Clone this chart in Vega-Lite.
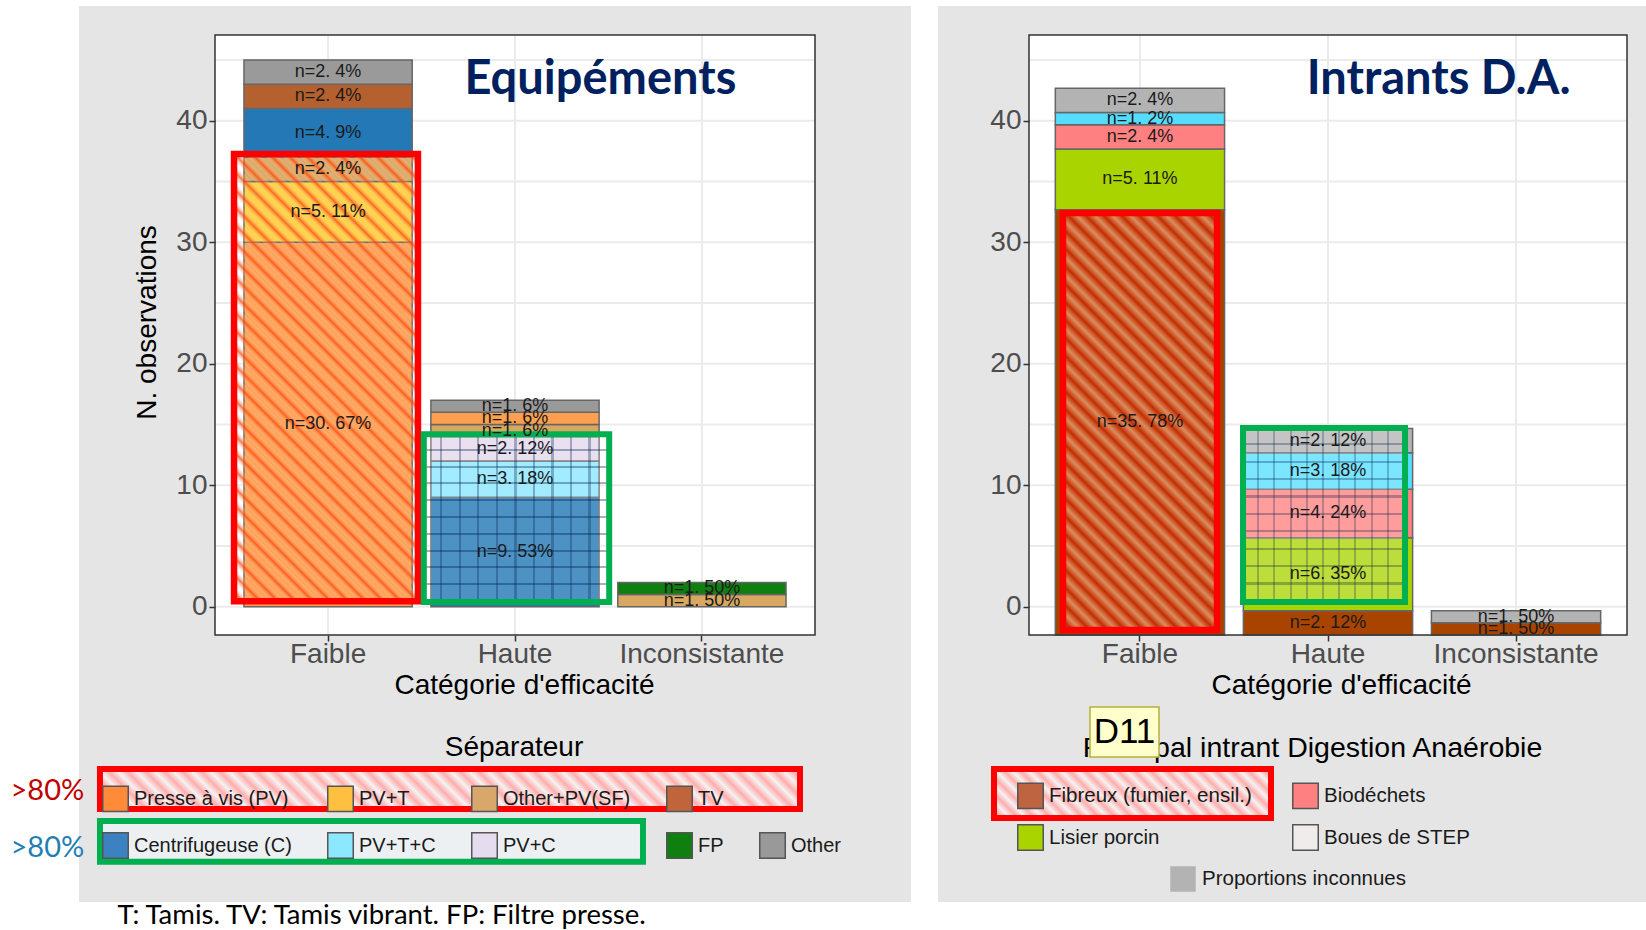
{
 "$schema": "https://vega.github.io/schema/vega-lite/v6.json",
 "background": "white",
 "padding": {"left": 10, "top": 5, "right": 0, "bottom": 0},
 "autosize": {"type": "pad"},
 "spacing": 26,
 "resolve": {"scale": {"color": "independent", "fill": "independent", "stroke": "independent", "shape": "independent", "x": "independent", "y": "independent"}, "legend": {"color": "independent", "fill": "independent", "stroke": "independent", "shape": "independent"}},
 "datasets": {
  "one": [{"a": 1}],
  "cats": [{"cat": "Faible"}, {"cat": "Haute"}, {"cat": "Inconsistante"}],
  "gridL": [{"v": 0}, {"v": 5}, {"v": 10}, {"v": 15}, {"v": 20}, {"v": 25}, {"v": 30}, {"v": 35}, {"v": 40}, {"v": 45}],
  "gridR": [{"v": 2.33}, {"v": 7.33}, {"v": 12.33}, {"v": 17.33}, {"v": 22.33}, {"v": 27.33}, {"v": 32.33}, {"v": 37.33}, {"v": 42.33}, {"v": 47.33}],
  "sepL": [
   {"cat": "Faible", "sep": "Presse à vis (PV)", "n": 30, "k": 1, "lab": "n=30. 67%"},
   {"cat": "Faible", "sep": "PV+T", "n": 5, "k": 2, "lab": "n=5. 11%"},
   {"cat": "Faible", "sep": "Other+PV(SF)", "n": 2, "k": 3, "lab": "n=2. 4%"},
   {"cat": "Faible", "sep": "Centrifugeuse (C)", "n": 4, "k": 4, "lab": "n=4. 9%"},
   {"cat": "Faible", "sep": "TV", "n": 2, "k": 5, "lab": "n=2. 4%"},
   {"cat": "Faible", "sep": "Other", "n": 2, "k": 6, "lab": "n=2. 4%"},
   {"cat": "Haute", "sep": "Centrifugeuse (C)", "n": 9, "k": 1, "lab": "n=9. 53%"},
   {"cat": "Haute", "sep": "PV+T+C", "n": 3, "k": 2, "lab": "n=3. 18%"},
   {"cat": "Haute", "sep": "PV+C", "n": 2, "k": 3, "lab": "n=2. 12%"},
   {"cat": "Haute", "sep": "Other+PV(SF)", "n": 1, "k": 4, "lab": "n=1. 6%"},
   {"cat": "Haute", "sep": "Presse à vis (PV)", "n": 1, "k": 5, "lab": "n=1. 6%"},
   {"cat": "Haute", "sep": "Other", "n": 1, "k": 6, "lab": "n=1. 6%"},
   {"cat": "Inconsistante", "sep": "Other+PV(SF)", "n": 1, "k": 1, "lab": "n=1. 50%"},
   {"cat": "Inconsistante", "sep": "FP", "n": 1, "k": 2, "lab": "n=1. 50%"}
  ],
  "inR": [
   {"cat": "Faible", "intr": "Fibreux (fumier, ensil.)", "n": 35, "k": 1, "lab": "n=35. 78%"},
   {"cat": "Faible", "intr": "Lisier porcin", "n": 5, "k": 2, "lab": "n=5. 11%"},
   {"cat": "Faible", "intr": "Biodéchets", "n": 2, "k": 3, "lab": "n=2. 4%"},
   {"cat": "Faible", "intr": "Boues de STEP", "n": 1, "k": 4, "lab": "n=1. 2%"},
   {"cat": "Faible", "intr": "Proportions inconnues", "n": 2, "k": 5, "lab": "n=2. 4%"},
   {"cat": "Haute", "intr": "Fibreux (fumier, ensil.)", "n": 2, "k": 1, "lab": "n=2. 12%"},
   {"cat": "Haute", "intr": "Lisier porcin", "n": 6, "k": 2, "lab": "n=6. 35%"},
   {"cat": "Haute", "intr": "Biodéchets", "n": 4, "k": 3, "lab": "n=4. 24%"},
   {"cat": "Haute", "intr": "Boues de STEP", "n": 3, "k": 4, "lab": "n=3. 18%"},
   {"cat": "Haute", "intr": "Proportions inconnues", "n": 2, "k": 5, "lab": "n=2. 12%"},
   {"cat": "Inconsistante", "intr": "Fibreux (fumier, ensil.)", "n": 1, "k": 1, "lab": "n=1. 50%"},
   {"cat": "Inconsistante", "intr": "Proportions inconnues", "n": 1, "k": 2, "lab": "n=1. 50%"}
  ]
 },
 "hconcat": [
  {
   "width": 600, "height": 600,
   "resolve": {"scale": {"x": "independent"}},
   "layer": [
    {"layer": [
     {"data": {"name": "one"}, "mark": {"type": "rect", "fill": "#E5E5E5"},
      "encoding": {"x": {"datum": -0.2267, "type": "quantitative", "scale": {"domain": [0, 1], "nice": false, "zero": false}, "axis": null}, "x2": {"datum": 1.16}, "y": {"datum": 49.44, "type": "quantitative"}, "y2": {"datum": -24.3}}},
     {"data": {"name": "one"}, "mark": {"type": "rect", "fill": "#FFFFFF"},
      "encoding": {"x": {"datum": 0, "type": "quantitative"}, "x2": {"datum": 1}, "y": {"datum": 47.05, "type": "quantitative"}, "y2": {"datum": -2.33}}},
     {"data": {"name": "gridL"}, "mark": {"type": "rule", "stroke": "#EBEBEB", "strokeWidth": 2},
      "encoding": {"x": {"datum": 0, "type": "quantitative"}, "x2": {"datum": 1}, "y": {"field": "v", "type": "quantitative"}}}
    ]},
    {"layer": [
     {"data": {"name": "cats"}, "mark": {"type": "rule", "stroke": "#EBEBEB", "strokeWidth": 2},
      "encoding": {"x": {"field": "cat", "type": "nominal"}, "y": {"datum": -2.33, "type": "quantitative"}, "y2": {"datum": 47.05}}},
     {"data": {"name": "sepL"}, "mark": {"type": "bar", "stroke": "#666666", "strokeWidth": 1.5},
      "encoding": {
       "x": {"field": "cat", "type": "nominal", "scale": {"domain": ["Faible", "Haute", "Inconsistante"], "paddingInner": 0.1, "paddingOuter": 0.155},
             "axis": {"orient": "bottom", "title": "Catégorie d'efficacité", "labelAngle": 0, "labelAlign": "center", "labelBaseline": "top", "labelPadding": -1, "titlePadding": 3, "titleX": 309, "zindex": 1}},
       "y": {"field": "n", "type": "quantitative", "stack": "zero", "scale": {"domain": [-2.33, 47.05], "nice": false, "zero": false},
             "axis": {"orient": "left", "title": "N. observations", "values": [0, 10, 20, 30, 40], "labelPadding": 2, "titlePadding": 14, "titleY": 287, "zindex": 1}},
       "color": {"field": "sep", "type": "nominal",
                 "scale": {"domain": ["Presse à vis (PV)", "PV+T", "Other+PV(SF)", "TV", "Centrifugeuse (C)", "PV+T+C", "PV+C", "FP", "Other"],
                           "range": ["#FFA050", "#FFD23C", "#D8A860", "#B4602F", "#2378B5", "#8CE6FF", "#E4D8EC", "#0F800F", "#9A9A9A"]},
                 "legend": null},
       "order": {"field": "k", "type": "quantitative"}
      }},
     {"data": {"name": "sepL"}, "mark": {"type": "point", "filled": true, "shape": "square", "strokeWidth": 2.5, "opacity": 0},
      "encoding": {"x": {"field": "cat", "type": "nominal"}, "y": {"datum": 0, "type": "quantitative"},
       "fill": {"field": "sep", "type": "nominal",
                "scale": {"domain": ["Presse à vis (PV)", "PV+T", "Other+PV(SF)", "TV", " ", "Centrifugeuse (C)", "PV+T+C", "PV+C", "FP", "Other"],
                          "range": ["#FF8A3A", "#FFC040", "#D9A66B", "#C0643C", "rgba(0,0,0,0)", "#3C82C0", "#8CE8FF", "#E6DCEF", "#0F800F", "#999999"]},
                "legend": {"orient": "none", "legendX": -113, "legendY": 750, "direction": "horizontal", "columns": 5, "title": null, "symbolOpacity": 1,
                           "labelFontSize": 20, "rowPadding": 14, "columnPadding": 32}},
       "stroke": {"field": "sep", "type": "nominal",
                "scale": {"domain": ["Presse à vis (PV)", "PV+T", "Other+PV(SF)", "TV", " ", "Centrifugeuse (C)", "PV+T+C", "PV+C", "FP", "Other"],
                          "range": ["#555555", "#555555", "#555555", "#555555", "rgba(0,0,0,0)", "#555555", "#555555", "#555555", "#555555", "#555555"]},
                "legend": {"orient": "none", "legendX": -113, "legendY": 750, "direction": "horizontal", "columns": 5, "title": null, "symbolOpacity": 1,
                           "labelFontSize": 20, "rowPadding": 14, "columnPadding": 32}}}}
    ]},
    {"layer": [
     {"data": {"name": "one"}, "mark": {"type": "rect", "fillOpacity": 0, "stroke": "#333333", "strokeWidth": 1.5},
      "encoding": {"x": {"datum": 0, "type": "quantitative", "scale": {"domain": [0, 1], "nice": false, "zero": false}, "axis": null}, "x2": {"datum": 1}, "y": {"datum": 47.05, "type": "quantitative"}, "y2": {"datum": -2.33}}},
     {"data": {"name": "one"}, "mark": {"type": "rect", "stroke": "#FF0000", "strokeWidth": 6.5,
       "fill": {"gradient": "linear", "x1": 0, "y1": 1, "x2": 0.497, "y2": -0.208, "stops": [
        {"offset": 0, "color": "rgba(255,255,255,0)"}, {"offset": 0.01389, "color": "rgba(255,70,0,0.75)"},
        {"offset": 0.02778, "color": "rgba(255,255,255,0)"}, {"offset": 0.04167, "color": "rgba(255,70,0,0.75)"},
        {"offset": 0.05556, "color": "rgba(255,255,255,0)"}, {"offset": 0.06944, "color": "rgba(255,70,0,0.75)"},
        {"offset": 0.08333, "color": "rgba(255,255,255,0)"}, {"offset": 0.09722, "color": "rgba(255,70,0,0.75)"},
        {"offset": 0.11111, "color": "rgba(255,255,255,0)"}, {"offset": 0.125, "color": "rgba(255,70,0,0.75)"},
        {"offset": 0.13889, "color": "rgba(255,255,255,0)"}, {"offset": 0.15278, "color": "rgba(255,70,0,0.75)"},
        {"offset": 0.16667, "color": "rgba(255,255,255,0)"}, {"offset": 0.18056, "color": "rgba(255,70,0,0.75)"},
        {"offset": 0.19444, "color": "rgba(255,255,255,0)"}, {"offset": 0.20833, "color": "rgba(255,70,0,0.75)"},
        {"offset": 0.22222, "color": "rgba(255,255,255,0)"}, {"offset": 0.23611, "color": "rgba(255,70,0,0.75)"},
        {"offset": 0.25, "color": "rgba(255,255,255,0)"}, {"offset": 0.26389, "color": "rgba(255,70,0,0.75)"},
        {"offset": 0.27778, "color": "rgba(255,255,255,0)"}, {"offset": 0.29167, "color": "rgba(255,70,0,0.75)"},
        {"offset": 0.30556, "color": "rgba(255,255,255,0)"}, {"offset": 0.31944, "color": "rgba(255,70,0,0.75)"},
        {"offset": 0.33333, "color": "rgba(255,255,255,0)"}, {"offset": 0.34722, "color": "rgba(255,70,0,0.75)"},
        {"offset": 0.36111, "color": "rgba(255,255,255,0)"}, {"offset": 0.375, "color": "rgba(255,70,0,0.75)"},
        {"offset": 0.38889, "color": "rgba(255,255,255,0)"}, {"offset": 0.40278, "color": "rgba(255,70,0,0.75)"},
        {"offset": 0.41667, "color": "rgba(255,255,255,0)"}, {"offset": 0.43056, "color": "rgba(255,70,0,0.75)"},
        {"offset": 0.44444, "color": "rgba(255,255,255,0)"}, {"offset": 0.45833, "color": "rgba(255,70,0,0.75)"},
        {"offset": 0.47222, "color": "rgba(255,255,255,0)"}, {"offset": 0.48611, "color": "rgba(255,70,0,0.75)"},
        {"offset": 0.5, "color": "rgba(255,255,255,0)"}, {"offset": 0.51389, "color": "rgba(255,70,0,0.75)"},
        {"offset": 0.52778, "color": "rgba(255,255,255,0)"}, {"offset": 0.54167, "color": "rgba(255,70,0,0.75)"},
        {"offset": 0.55556, "color": "rgba(255,255,255,0)"}, {"offset": 0.56944, "color": "rgba(255,70,0,0.75)"},
        {"offset": 0.58333, "color": "rgba(255,255,255,0)"}, {"offset": 0.59722, "color": "rgba(255,70,0,0.75)"},
        {"offset": 0.61111, "color": "rgba(255,255,255,0)"}, {"offset": 0.625, "color": "rgba(255,70,0,0.75)"},
        {"offset": 0.63889, "color": "rgba(255,255,255,0)"}, {"offset": 0.65278, "color": "rgba(255,70,0,0.75)"},
        {"offset": 0.66667, "color": "rgba(255,255,255,0)"}, {"offset": 0.68056, "color": "rgba(255,70,0,0.75)"},
        {"offset": 0.69444, "color": "rgba(255,255,255,0)"}, {"offset": 0.70833, "color": "rgba(255,70,0,0.75)"},
        {"offset": 0.72222, "color": "rgba(255,255,255,0)"}, {"offset": 0.73611, "color": "rgba(255,70,0,0.75)"},
        {"offset": 0.75, "color": "rgba(255,255,255,0)"}, {"offset": 0.76389, "color": "rgba(255,70,0,0.75)"},
        {"offset": 0.77778, "color": "rgba(255,255,255,0)"}, {"offset": 0.79167, "color": "rgba(255,70,0,0.75)"},
        {"offset": 0.80556, "color": "rgba(255,255,255,0)"}, {"offset": 0.81944, "color": "rgba(255,70,0,0.75)"},
        {"offset": 0.83333, "color": "rgba(255,255,255,0)"}, {"offset": 0.84722, "color": "rgba(255,70,0,0.75)"},
        {"offset": 0.86111, "color": "rgba(255,255,255,0)"}, {"offset": 0.875, "color": "rgba(255,70,0,0.75)"},
        {"offset": 0.88889, "color": "rgba(255,255,255,0)"}, {"offset": 0.90278, "color": "rgba(255,70,0,0.75)"},
        {"offset": 0.91667, "color": "rgba(255,255,255,0)"}, {"offset": 0.93056, "color": "rgba(255,70,0,0.75)"},
        {"offset": 0.94444, "color": "rgba(255,255,255,0)"}, {"offset": 0.95833, "color": "rgba(255,70,0,0.75)"},
        {"offset": 0.97222, "color": "rgba(255,255,255,0)"}, {"offset": 0.98611, "color": "rgba(255,70,0,0.75)"},
        {"offset": 1, "color": "rgba(255,255,255,0)"}]}},
      "encoding": {"x": {"datum": 0.0317, "type": "quantitative"}, "x2": {"datum": 0.3383}, "y": {"datum": 37.26, "type": "quantitative"}, "y2": {"datum": 0.45}}},
     {"data": {"name": "one"}, "mark": {"type": "rect",
       "fill": {"gradient": "linear", "x1": 0, "y1": 0, "x2": 1, "y2": 0, "stops": [
        {"offset": 0, "color": "rgba(255,255,255,0.1)"}, {"offset": 0.088, "color": "rgba(255,255,255,0.1)"}, {"offset": 0.088, "color": "rgba(30,60,100,0.4)"}, {"offset": 0.1, "color": "rgba(30,60,100,0.4)"},
        {"offset": 0.1, "color": "rgba(255,255,255,0.1)"}, {"offset": 0.188, "color": "rgba(255,255,255,0.1)"}, {"offset": 0.188, "color": "rgba(30,60,100,0.4)"}, {"offset": 0.2, "color": "rgba(30,60,100,0.4)"},
        {"offset": 0.2, "color": "rgba(255,255,255,0.1)"}, {"offset": 0.288, "color": "rgba(255,255,255,0.1)"}, {"offset": 0.288, "color": "rgba(30,60,100,0.4)"}, {"offset": 0.3, "color": "rgba(30,60,100,0.4)"},
        {"offset": 0.3, "color": "rgba(255,255,255,0.1)"}, {"offset": 0.388, "color": "rgba(255,255,255,0.1)"}, {"offset": 0.388, "color": "rgba(30,60,100,0.4)"}, {"offset": 0.4, "color": "rgba(30,60,100,0.4)"},
        {"offset": 0.4, "color": "rgba(255,255,255,0.1)"}, {"offset": 0.488, "color": "rgba(255,255,255,0.1)"}, {"offset": 0.488, "color": "rgba(30,60,100,0.4)"}, {"offset": 0.5, "color": "rgba(30,60,100,0.4)"},
        {"offset": 0.5, "color": "rgba(255,255,255,0.1)"}, {"offset": 0.588, "color": "rgba(255,255,255,0.1)"}, {"offset": 0.588, "color": "rgba(30,60,100,0.4)"}, {"offset": 0.6, "color": "rgba(30,60,100,0.4)"},
        {"offset": 0.6, "color": "rgba(255,255,255,0.1)"}, {"offset": 0.688, "color": "rgba(255,255,255,0.1)"}, {"offset": 0.688, "color": "rgba(30,60,100,0.4)"}, {"offset": 0.7, "color": "rgba(30,60,100,0.4)"},
        {"offset": 0.7, "color": "rgba(255,255,255,0.1)"}, {"offset": 0.788, "color": "rgba(255,255,255,0.1)"}, {"offset": 0.788, "color": "rgba(30,60,100,0.4)"}, {"offset": 0.8, "color": "rgba(30,60,100,0.4)"},
        {"offset": 0.8, "color": "rgba(255,255,255,0.1)"}, {"offset": 0.888, "color": "rgba(255,255,255,0.1)"}, {"offset": 0.888, "color": "rgba(30,60,100,0.4)"}, {"offset": 0.9, "color": "rgba(30,60,100,0.4)"},
        {"offset": 0.9, "color": "rgba(255,255,255,0.1)"}, {"offset": 1, "color": "rgba(255,255,255,0.1)"}]}},
      "encoding": {"x": {"datum": 0.348, "type": "quantitative"}, "x2": {"datum": 0.657}, "y": {"datum": 14.2, "type": "quantitative"}, "y2": {"datum": 0.39}}},
     {"data": {"name": "one"}, "mark": {"type": "rect",
       "fill": {"gradient": "linear", "x1": 0, "y1": 0, "x2": 0, "y2": 1, "stops": [
        {"offset": 0, "color": "rgba(255,255,255,0.1)"}, {"offset": 0.088, "color": "rgba(255,255,255,0.1)"}, {"offset": 0.088, "color": "rgba(30,60,100,0.4)"}, {"offset": 0.1, "color": "rgba(30,60,100,0.4)"},
        {"offset": 0.1, "color": "rgba(255,255,255,0.1)"}, {"offset": 0.188, "color": "rgba(255,255,255,0.1)"}, {"offset": 0.188, "color": "rgba(30,60,100,0.4)"}, {"offset": 0.2, "color": "rgba(30,60,100,0.4)"},
        {"offset": 0.2, "color": "rgba(255,255,255,0.1)"}, {"offset": 0.288, "color": "rgba(255,255,255,0.1)"}, {"offset": 0.288, "color": "rgba(30,60,100,0.4)"}, {"offset": 0.3, "color": "rgba(30,60,100,0.4)"},
        {"offset": 0.3, "color": "rgba(255,255,255,0.1)"}, {"offset": 0.388, "color": "rgba(255,255,255,0.1)"}, {"offset": 0.388, "color": "rgba(30,60,100,0.4)"}, {"offset": 0.4, "color": "rgba(30,60,100,0.4)"},
        {"offset": 0.4, "color": "rgba(255,255,255,0.1)"}, {"offset": 0.488, "color": "rgba(255,255,255,0.1)"}, {"offset": 0.488, "color": "rgba(30,60,100,0.4)"}, {"offset": 0.5, "color": "rgba(30,60,100,0.4)"},
        {"offset": 0.5, "color": "rgba(255,255,255,0.1)"}, {"offset": 0.588, "color": "rgba(255,255,255,0.1)"}, {"offset": 0.588, "color": "rgba(30,60,100,0.4)"}, {"offset": 0.6, "color": "rgba(30,60,100,0.4)"},
        {"offset": 0.6, "color": "rgba(255,255,255,0.1)"}, {"offset": 0.688, "color": "rgba(255,255,255,0.1)"}, {"offset": 0.688, "color": "rgba(30,60,100,0.4)"}, {"offset": 0.7, "color": "rgba(30,60,100,0.4)"},
        {"offset": 0.7, "color": "rgba(255,255,255,0.1)"}, {"offset": 0.788, "color": "rgba(255,255,255,0.1)"}, {"offset": 0.788, "color": "rgba(30,60,100,0.4)"}, {"offset": 0.8, "color": "rgba(30,60,100,0.4)"},
        {"offset": 0.8, "color": "rgba(255,255,255,0.1)"}, {"offset": 0.888, "color": "rgba(255,255,255,0.1)"}, {"offset": 0.888, "color": "rgba(30,60,100,0.4)"}, {"offset": 0.9, "color": "rgba(30,60,100,0.4)"},
        {"offset": 0.9, "color": "rgba(255,255,255,0.1)"}, {"offset": 1, "color": "rgba(255,255,255,0.1)"}]}},
      "encoding": {"x": {"datum": 0.348, "type": "quantitative"}, "x2": {"datum": 0.657}, "y": {"datum": 14.2, "type": "quantitative"}, "y2": {"datum": 0.39}}},
     {"data": {"name": "one"}, "mark": {"type": "rect", "fillOpacity": 0, "stroke": "#00B050", "strokeWidth": 6},
      "encoding": {"x": {"datum": 0.348, "type": "quantitative"}, "x2": {"datum": 0.657}, "y": {"datum": 14.2, "type": "quantitative"}, "y2": {"datum": 0.39}}},
     {"data": {"name": "one"}, "mark": {"type": "rect", "stroke": "#FF0000", "strokeWidth": 6,
       "fill": {"gradient": "linear", "x1": 0, "y1": 1, "x2": 1.0537, "y2": 0.9398, "stops": [
        {"offset": 0, "color": "#F5F2F2"}, {"offset": 0.0125, "color": "#FFADAD"}, {"offset": 0.025, "color": "#F5F2F2"}, {"offset": 0.0375, "color": "#FFADAD"},
        {"offset": 0.05, "color": "#F5F2F2"}, {"offset": 0.0625, "color": "#FFADAD"}, {"offset": 0.075, "color": "#F5F2F2"}, {"offset": 0.0875, "color": "#FFADAD"},
        {"offset": 0.1, "color": "#F5F2F2"}, {"offset": 0.1125, "color": "#FFADAD"}, {"offset": 0.125, "color": "#F5F2F2"}, {"offset": 0.1375, "color": "#FFADAD"},
        {"offset": 0.15, "color": "#F5F2F2"}, {"offset": 0.1625, "color": "#FFADAD"}, {"offset": 0.175, "color": "#F5F2F2"}, {"offset": 0.1875, "color": "#FFADAD"},
        {"offset": 0.2, "color": "#F5F2F2"}, {"offset": 0.2125, "color": "#FFADAD"}, {"offset": 0.225, "color": "#F5F2F2"}, {"offset": 0.2375, "color": "#FFADAD"},
        {"offset": 0.25, "color": "#F5F2F2"}, {"offset": 0.2625, "color": "#FFADAD"}, {"offset": 0.275, "color": "#F5F2F2"}, {"offset": 0.2875, "color": "#FFADAD"},
        {"offset": 0.3, "color": "#F5F2F2"}, {"offset": 0.3125, "color": "#FFADAD"}, {"offset": 0.325, "color": "#F5F2F2"}, {"offset": 0.3375, "color": "#FFADAD"},
        {"offset": 0.35, "color": "#F5F2F2"}, {"offset": 0.3625, "color": "#FFADAD"}, {"offset": 0.375, "color": "#F5F2F2"}, {"offset": 0.3875, "color": "#FFADAD"},
        {"offset": 0.4, "color": "#F5F2F2"}, {"offset": 0.4125, "color": "#FFADAD"}, {"offset": 0.425, "color": "#F5F2F2"}, {"offset": 0.4375, "color": "#FFADAD"},
        {"offset": 0.45, "color": "#F5F2F2"}, {"offset": 0.4625, "color": "#FFADAD"}, {"offset": 0.475, "color": "#F5F2F2"}, {"offset": 0.4875, "color": "#FFADAD"},
        {"offset": 0.5, "color": "#F5F2F2"}, {"offset": 0.5125, "color": "#FFADAD"}, {"offset": 0.525, "color": "#F5F2F2"}, {"offset": 0.5375, "color": "#FFADAD"},
        {"offset": 0.55, "color": "#F5F2F2"}, {"offset": 0.5625, "color": "#FFADAD"}, {"offset": 0.575, "color": "#F5F2F2"}, {"offset": 0.5875, "color": "#FFADAD"},
        {"offset": 0.6, "color": "#F5F2F2"}, {"offset": 0.6125, "color": "#FFADAD"}, {"offset": 0.625, "color": "#F5F2F2"}, {"offset": 0.6375, "color": "#FFADAD"},
        {"offset": 0.65, "color": "#F5F2F2"}, {"offset": 0.6625, "color": "#FFADAD"}, {"offset": 0.675, "color": "#F5F2F2"}, {"offset": 0.6875, "color": "#FFADAD"},
        {"offset": 0.7, "color": "#F5F2F2"}, {"offset": 0.7125, "color": "#FFADAD"}, {"offset": 0.725, "color": "#F5F2F2"}, {"offset": 0.7375, "color": "#FFADAD"},
        {"offset": 0.75, "color": "#F5F2F2"}, {"offset": 0.7625, "color": "#FFADAD"}, {"offset": 0.775, "color": "#F5F2F2"}, {"offset": 0.7875, "color": "#FFADAD"},
        {"offset": 0.8, "color": "#F5F2F2"}, {"offset": 0.8125, "color": "#FFADAD"}, {"offset": 0.825, "color": "#F5F2F2"}, {"offset": 0.8375, "color": "#FFADAD"},
        {"offset": 0.85, "color": "#F5F2F2"}, {"offset": 0.8625, "color": "#FFADAD"}, {"offset": 0.875, "color": "#F5F2F2"}, {"offset": 0.8875, "color": "#FFADAD"},
        {"offset": 0.9, "color": "#F5F2F2"}, {"offset": 0.9125, "color": "#FFADAD"}, {"offset": 0.925, "color": "#F5F2F2"}, {"offset": 0.9375, "color": "#FFADAD"},
        {"offset": 0.95, "color": "#F5F2F2"}, {"offset": 0.9625, "color": "#FFADAD"}, {"offset": 0.975, "color": "#F5F2F2"}, {"offset": 0.9875, "color": "#FFADAD"},
        {"offset": 1, "color": "#F5F2F2"}]}},
      "encoding": {"x": {"datum": -0.1917, "type": "quantitative"}, "x2": {"datum": 0.975}, "y": {"datum": -13.36, "type": "quantitative"}, "y2": {"datum": -16.65}}},
     {"data": {"name": "one"}, "mark": {"type": "rect", "fill": "#ECF0F3", "stroke": "#00B050", "strokeWidth": 6},
      "encoding": {"x": {"datum": -0.1917, "type": "quantitative"}, "x2": {"datum": 0.7133}, "y": {"datum": -17.63, "type": "quantitative"}, "y2": {"datum": -21.0}}},
     {"data": {"name": "one"}, "mark": {"type": "text", "text": "Equipéments", "font": "Lato", "fontWeight": "bold", "fontSize": 47, "fill": "#002060", "align": "center", "baseline": "middle"},
      "encoding": {"x": {"datum": 0.6423, "type": "quantitative"}, "y": {"datum": 43.37, "type": "quantitative"}}},
     {"data": {"name": "one"}, "mark": {"type": "text", "text": "Séparateur", "font": "Liberation Sans", "fontSize": 28, "fill": "#000000", "align": "center", "baseline": "middle"},
      "encoding": {"x": {"datum": 0.4983, "type": "quantitative"}, "y": {"datum": -11.67, "type": "quantitative"}}},
     {"data": {"name": "one"}, "mark": {"type": "text", "text": ">80%", "font": "Lato", "fontSize": 29, "fill": "#C00000", "align": "left", "baseline": "middle"},
      "encoding": {"x": {"datum": -0.3408, "type": "quantitative"}, "y": {"datum": -15.13, "type": "quantitative"}}},
     {"data": {"name": "one"}, "mark": {"type": "text", "text": ">80%", "font": "Lato", "fontSize": 29, "fill": "#1F7FB4", "align": "left", "baseline": "middle"},
      "encoding": {"x": {"datum": -0.3408, "type": "quantitative"}, "y": {"datum": -19.82, "type": "quantitative"}}},
     {"data": {"name": "one"}, "mark": {"type": "text", "text": "T: Tamis. TV: Tamis vibrant. FP: Filtre presse.", "font": "Lato", "fontSize": 27.5, "fill": "#000000", "align": "left", "baseline": "middle"},
      "encoding": {"x": {"datum": -0.1623, "type": "quantitative"}, "y": {"datum": -25.42, "type": "quantitative"}}}
    ]},
    {"layer": [
     {"data": {"name": "sepL"}, "mark": {"type": "text", "font": "Liberation Sans", "fontSize": 18, "fill": "#1A1A1A", "baseline": "middle"},
      "encoding": {"x": {"field": "cat", "type": "nominal", "scale": {"type": "band", "domain": ["Faible", "Haute", "Inconsistante"], "paddingInner": 0.1, "paddingOuter": 0.155}, "axis": null},
                   "y": {"field": "n", "type": "quantitative", "stack": "zero", "bandPosition": 0.5},
                   "detail": {"field": "sep"}, "order": {"field": "k", "type": "quantitative"}, "text": {"field": "lab"}}}
    ]}
   ]
  },
  {
   "width": 598, "height": 600,
   "resolve": {"scale": {"x": "independent"}},
   "layer": [
    {"layer": [
     {"data": {"name": "one"}, "mark": {"type": "rect", "fill": "#E5E5E5"},
      "encoding": {"x": {"datum": -0.1522, "type": "quantitative", "scale": {"domain": [0, 1], "nice": false, "zero": false}, "axis": null}, "x2": {"datum": 1.0334}, "y": {"datum": 51.77, "type": "quantitative"}, "y2": {"datum": -21.98}}},
     {"data": {"name": "one"}, "mark": {"type": "rect", "fill": "#FFFFFF"},
      "encoding": {"x": {"datum": 0, "type": "quantitative"}, "x2": {"datum": 1}, "y": {"datum": 49.38, "type": "quantitative"}, "y2": {"datum": 0}}},
     {"data": {"name": "gridR"}, "mark": {"type": "rule", "stroke": "#EBEBEB", "strokeWidth": 2},
      "encoding": {"x": {"datum": 0, "type": "quantitative"}, "x2": {"datum": 1}, "y": {"field": "v", "type": "quantitative"}}}
    ]},
    {"layer": [
     {"data": {"name": "cats"}, "mark": {"type": "rule", "stroke": "#EBEBEB", "strokeWidth": 2},
      "encoding": {"x": {"field": "cat", "type": "nominal"}, "y": {"datum": 0, "type": "quantitative"}, "y2": {"datum": 49.38}}},
     {"data": {"name": "inR"}, "mark": {"type": "bar", "stroke": "#666666", "strokeWidth": 1.5},
      "encoding": {
       "x": {"field": "cat", "type": "nominal", "scale": {"domain": ["Faible", "Haute", "Inconsistante"], "paddingInner": 0.1, "paddingOuter": 0.14},
             "axis": {"orient": "bottom", "title": "Catégorie d'efficacité", "labelAngle": 0, "labelAlign": "center", "labelBaseline": "top", "labelPadding": -1, "titlePadding": 3, "titleX": 312, "zindex": 1}},
       "y": {"field": "n", "type": "quantitative", "stack": "zero", "scale": {"domain": [0, 49.38], "nice": false, "zero": false},
             "axis": {"orient": "left", "title": null, "values": [2.33, 12.33, 22.33, 32.33, 42.33], "labelExpr": "format(datum.value - 2.33, '.0f')", "labelPadding": 2, "zindex": 1}},
       "color": {"field": "intr", "type": "nominal",
                 "scale": {"domain": ["Fibreux (fumier, ensil.)", "Biodéchets", "Lisier porcin", "Boues de STEP", "Proportions inconnues"],
                           "range": ["#A84400", "#FF8080", "#AAD400", "#55DDFF", "#B3B3B3"]},
                 "legend": null},
       "order": {"field": "k", "type": "quantitative"}
      }},
     {"data": {"name": "inR"}, "transform": [{"filter": "datum.intr !== 'Proportions inconnues'"}],
      "mark": {"type": "point", "filled": true, "shape": "square", "stroke": "#555555", "strokeWidth": 2.5, "opacity": 0},
      "encoding": {"x": {"field": "cat", "type": "nominal"}, "y": {"datum": 0, "type": "quantitative"},
       "fill": {"field": "intr", "type": "nominal",
                "scale": {"domain": ["Fibreux (fumier, ensil.)", "Biodéchets", "Lisier porcin", "Boues de STEP"],
                          "range": ["#BF6440", "#FF8080", "#AAD400", "#F1ECEC"]},
                "legend": {"orient": "none", "legendX": -12, "legendY": 747, "direction": "horizontal", "columns": 2, "title": null, "symbolOpacity": 1,
                           "rowPadding": 9, "columnPadding": 37}}}},
     {"data": {"name": "one"}, "mark": {"type": "point", "filled": true, "fill": "#B3B3B3", "stroke": "#555555", "strokeWidth": 2.5, "opacity": 0},
      "encoding": {"x": {"datum": "Faible", "type": "nominal"}, "y": {"datum": 0, "type": "quantitative"},
                   "shape": {"datum": "Proportions inconnues", "type": "nominal", "scale": {"domain": ["Proportions inconnues"], "range": ["square"]},
                             "legend": {"orient": "none", "legendX": 140, "legendY": 830, "title": null, "symbolFillColor": "#B3B3B3", "symbolStrokeColor": "#555555", "symbolStrokeWidth": 2.5, "symbolOpacity": 1}}}}
    ]},
    {"layer": [
     {"data": {"name": "one"}, "mark": {"type": "rect", "fillOpacity": 0, "stroke": "#333333", "strokeWidth": 1.5},
      "encoding": {"x": {"datum": 0, "type": "quantitative", "scale": {"domain": [0, 1], "nice": false, "zero": false}, "axis": null}, "x2": {"datum": 1}, "y": {"datum": 49.38, "type": "quantitative"}, "y2": {"datum": 0}}},
     {"data": {"name": "one"}, "mark": {"type": "rect", "stroke": "#FF0000", "strokeWidth": 6.5,
       "fill": {"gradient": "linear", "x1": 0, "y1": 1, "x2": 0.445, "y2": -0.205, "stops": [
        {"offset": 0, "color": "rgba(235,165,125,0.75)"}, {"offset": 0.015625, "color": "rgba(200,40,0,0.85)"},
        {"offset": 0.03125, "color": "rgba(235,165,125,0.75)"}, {"offset": 0.046875, "color": "rgba(200,40,0,0.85)"},
        {"offset": 0.0625, "color": "rgba(235,165,125,0.75)"}, {"offset": 0.078125, "color": "rgba(200,40,0,0.85)"},
        {"offset": 0.09375, "color": "rgba(235,165,125,0.75)"}, {"offset": 0.109375, "color": "rgba(200,40,0,0.85)"},
        {"offset": 0.125, "color": "rgba(235,165,125,0.75)"}, {"offset": 0.140625, "color": "rgba(200,40,0,0.85)"},
        {"offset": 0.15625, "color": "rgba(235,165,125,0.75)"}, {"offset": 0.171875, "color": "rgba(200,40,0,0.85)"},
        {"offset": 0.1875, "color": "rgba(235,165,125,0.75)"}, {"offset": 0.203125, "color": "rgba(200,40,0,0.85)"},
        {"offset": 0.21875, "color": "rgba(235,165,125,0.75)"}, {"offset": 0.234375, "color": "rgba(200,40,0,0.85)"},
        {"offset": 0.25, "color": "rgba(235,165,125,0.75)"}, {"offset": 0.265625, "color": "rgba(200,40,0,0.85)"},
        {"offset": 0.28125, "color": "rgba(235,165,125,0.75)"}, {"offset": 0.296875, "color": "rgba(200,40,0,0.85)"},
        {"offset": 0.3125, "color": "rgba(235,165,125,0.75)"}, {"offset": 0.328125, "color": "rgba(200,40,0,0.85)"},
        {"offset": 0.34375, "color": "rgba(235,165,125,0.75)"}, {"offset": 0.359375, "color": "rgba(200,40,0,0.85)"},
        {"offset": 0.375, "color": "rgba(235,165,125,0.75)"}, {"offset": 0.390625, "color": "rgba(200,40,0,0.85)"},
        {"offset": 0.40625, "color": "rgba(235,165,125,0.75)"}, {"offset": 0.421875, "color": "rgba(200,40,0,0.85)"},
        {"offset": 0.4375, "color": "rgba(235,165,125,0.75)"}, {"offset": 0.453125, "color": "rgba(200,40,0,0.85)"},
        {"offset": 0.46875, "color": "rgba(235,165,125,0.75)"}, {"offset": 0.484375, "color": "rgba(200,40,0,0.85)"},
        {"offset": 0.5, "color": "rgba(235,165,125,0.75)"}, {"offset": 0.515625, "color": "rgba(200,40,0,0.85)"},
        {"offset": 0.53125, "color": "rgba(235,165,125,0.75)"}, {"offset": 0.546875, "color": "rgba(200,40,0,0.85)"},
        {"offset": 0.5625, "color": "rgba(235,165,125,0.75)"}, {"offset": 0.578125, "color": "rgba(200,40,0,0.85)"},
        {"offset": 0.59375, "color": "rgba(235,165,125,0.75)"}, {"offset": 0.609375, "color": "rgba(200,40,0,0.85)"},
        {"offset": 0.625, "color": "rgba(235,165,125,0.75)"}, {"offset": 0.640625, "color": "rgba(200,40,0,0.85)"},
        {"offset": 0.65625, "color": "rgba(235,165,125,0.75)"}, {"offset": 0.671875, "color": "rgba(200,40,0,0.85)"},
        {"offset": 0.6875, "color": "rgba(235,165,125,0.75)"}, {"offset": 0.703125, "color": "rgba(200,40,0,0.85)"},
        {"offset": 0.71875, "color": "rgba(235,165,125,0.75)"}, {"offset": 0.734375, "color": "rgba(200,40,0,0.85)"},
        {"offset": 0.75, "color": "rgba(235,165,125,0.75)"}, {"offset": 0.765625, "color": "rgba(200,40,0,0.85)"},
        {"offset": 0.78125, "color": "rgba(235,165,125,0.75)"}, {"offset": 0.796875, "color": "rgba(200,40,0,0.85)"},
        {"offset": 0.8125, "color": "rgba(235,165,125,0.75)"}, {"offset": 0.828125, "color": "rgba(200,40,0,0.85)"},
        {"offset": 0.84375, "color": "rgba(235,165,125,0.75)"}, {"offset": 0.859375, "color": "rgba(200,40,0,0.85)"},
        {"offset": 0.875, "color": "rgba(235,165,125,0.75)"}, {"offset": 0.890625, "color": "rgba(200,40,0,0.85)"},
        {"offset": 0.90625, "color": "rgba(235,165,125,0.75)"}, {"offset": 0.921875, "color": "rgba(200,40,0,0.85)"},
        {"offset": 0.9375, "color": "rgba(235,165,125,0.75)"}, {"offset": 0.953125, "color": "rgba(200,40,0,0.85)"},
        {"offset": 0.96875, "color": "rgba(235,165,125,0.75)"}, {"offset": 0.984375, "color": "rgba(200,40,0,0.85)"},
        {"offset": 1, "color": "rgba(235,165,125,0.75)"}]}},
      "encoding": {"x": {"datum": 0.0569, "type": "quantitative"}, "x2": {"datum": 0.3144}, "y": {"datum": 34.73, "type": "quantitative"}, "y2": {"datum": 0.41}}},
     {"data": {"name": "one"}, "mark": {"type": "rect",
       "fill": {"gradient": "linear", "x1": 0, "y1": 0, "x2": 1, "y2": 0, "stops": [
        {"offset": 0, "color": "rgba(255,255,255,0.12)"}, {"offset": 0.088, "color": "rgba(255,255,255,0.12)"}, {"offset": 0.088, "color": "rgba(40,70,100,0.35)"}, {"offset": 0.1, "color": "rgba(40,70,100,0.35)"},
        {"offset": 0.1, "color": "rgba(255,255,255,0.12)"}, {"offset": 0.188, "color": "rgba(255,255,255,0.12)"}, {"offset": 0.188, "color": "rgba(40,70,100,0.35)"}, {"offset": 0.2, "color": "rgba(40,70,100,0.35)"},
        {"offset": 0.2, "color": "rgba(255,255,255,0.12)"}, {"offset": 0.288, "color": "rgba(255,255,255,0.12)"}, {"offset": 0.288, "color": "rgba(40,70,100,0.35)"}, {"offset": 0.3, "color": "rgba(40,70,100,0.35)"},
        {"offset": 0.3, "color": "rgba(255,255,255,0.12)"}, {"offset": 0.388, "color": "rgba(255,255,255,0.12)"}, {"offset": 0.388, "color": "rgba(40,70,100,0.35)"}, {"offset": 0.4, "color": "rgba(40,70,100,0.35)"},
        {"offset": 0.4, "color": "rgba(255,255,255,0.12)"}, {"offset": 0.488, "color": "rgba(255,255,255,0.12)"}, {"offset": 0.488, "color": "rgba(40,70,100,0.35)"}, {"offset": 0.5, "color": "rgba(40,70,100,0.35)"},
        {"offset": 0.5, "color": "rgba(255,255,255,0.12)"}, {"offset": 0.588, "color": "rgba(255,255,255,0.12)"}, {"offset": 0.588, "color": "rgba(40,70,100,0.35)"}, {"offset": 0.6, "color": "rgba(40,70,100,0.35)"},
        {"offset": 0.6, "color": "rgba(255,255,255,0.12)"}, {"offset": 0.688, "color": "rgba(255,255,255,0.12)"}, {"offset": 0.688, "color": "rgba(40,70,100,0.35)"}, {"offset": 0.7, "color": "rgba(40,70,100,0.35)"},
        {"offset": 0.7, "color": "rgba(255,255,255,0.12)"}, {"offset": 0.788, "color": "rgba(255,255,255,0.12)"}, {"offset": 0.788, "color": "rgba(40,70,100,0.35)"}, {"offset": 0.8, "color": "rgba(40,70,100,0.35)"},
        {"offset": 0.8, "color": "rgba(255,255,255,0.12)"}, {"offset": 0.888, "color": "rgba(255,255,255,0.12)"}, {"offset": 0.888, "color": "rgba(40,70,100,0.35)"}, {"offset": 0.9, "color": "rgba(40,70,100,0.35)"},
        {"offset": 0.9, "color": "rgba(255,255,255,0.12)"}, {"offset": 1, "color": "rgba(255,255,255,0.12)"}]}},
      "encoding": {"x": {"datum": 0.3579, "type": "quantitative"}, "x2": {"datum": 0.6288}, "y": {"datum": 17.04, "type": "quantitative"}, "y2": {"datum": 2.72}}},
     {"data": {"name": "one"}, "mark": {"type": "rect",
       "fill": {"gradient": "linear", "x1": 0, "y1": 0, "x2": 0, "y2": 1, "stops": [
        {"offset": 0, "color": "rgba(255,255,255,0.12)"}, {"offset": 0.088, "color": "rgba(255,255,255,0.12)"}, {"offset": 0.088, "color": "rgba(40,70,100,0.35)"}, {"offset": 0.1, "color": "rgba(40,70,100,0.35)"},
        {"offset": 0.1, "color": "rgba(255,255,255,0.12)"}, {"offset": 0.188, "color": "rgba(255,255,255,0.12)"}, {"offset": 0.188, "color": "rgba(40,70,100,0.35)"}, {"offset": 0.2, "color": "rgba(40,70,100,0.35)"},
        {"offset": 0.2, "color": "rgba(255,255,255,0.12)"}, {"offset": 0.288, "color": "rgba(255,255,255,0.12)"}, {"offset": 0.288, "color": "rgba(40,70,100,0.35)"}, {"offset": 0.3, "color": "rgba(40,70,100,0.35)"},
        {"offset": 0.3, "color": "rgba(255,255,255,0.12)"}, {"offset": 0.388, "color": "rgba(255,255,255,0.12)"}, {"offset": 0.388, "color": "rgba(40,70,100,0.35)"}, {"offset": 0.4, "color": "rgba(40,70,100,0.35)"},
        {"offset": 0.4, "color": "rgba(255,255,255,0.12)"}, {"offset": 0.488, "color": "rgba(255,255,255,0.12)"}, {"offset": 0.488, "color": "rgba(40,70,100,0.35)"}, {"offset": 0.5, "color": "rgba(40,70,100,0.35)"},
        {"offset": 0.5, "color": "rgba(255,255,255,0.12)"}, {"offset": 0.588, "color": "rgba(255,255,255,0.12)"}, {"offset": 0.588, "color": "rgba(40,70,100,0.35)"}, {"offset": 0.6, "color": "rgba(40,70,100,0.35)"},
        {"offset": 0.6, "color": "rgba(255,255,255,0.12)"}, {"offset": 0.688, "color": "rgba(255,255,255,0.12)"}, {"offset": 0.688, "color": "rgba(40,70,100,0.35)"}, {"offset": 0.7, "color": "rgba(40,70,100,0.35)"},
        {"offset": 0.7, "color": "rgba(255,255,255,0.12)"}, {"offset": 0.788, "color": "rgba(255,255,255,0.12)"}, {"offset": 0.788, "color": "rgba(40,70,100,0.35)"}, {"offset": 0.8, "color": "rgba(40,70,100,0.35)"},
        {"offset": 0.8, "color": "rgba(255,255,255,0.12)"}, {"offset": 0.888, "color": "rgba(255,255,255,0.12)"}, {"offset": 0.888, "color": "rgba(40,70,100,0.35)"}, {"offset": 0.9, "color": "rgba(40,70,100,0.35)"},
        {"offset": 0.9, "color": "rgba(255,255,255,0.12)"}, {"offset": 1, "color": "rgba(255,255,255,0.12)"}]}},
      "encoding": {"x": {"datum": 0.3579, "type": "quantitative"}, "x2": {"datum": 0.6288}, "y": {"datum": 17.04, "type": "quantitative"}, "y2": {"datum": 2.72}}},
     {"data": {"name": "one"}, "mark": {"type": "rect", "fillOpacity": 0, "stroke": "#00B050", "strokeWidth": 6},
      "encoding": {"x": {"datum": 0.3579, "type": "quantitative"}, "x2": {"datum": 0.6288}, "y": {"datum": 17.04, "type": "quantitative"}, "y2": {"datum": 2.72}}},
     {"data": {"name": "one"}, "mark": {"type": "rect", "stroke": "#FF0000", "strokeWidth": 6,
       "fill": {"gradient": "linear", "x1": 0, "y1": 1, "x2": 1.1412, "y2": 0.7981, "stops": [
        {"offset": 0, "color": "#F5F2F2"}, {"offset": 0.025, "color": "#FFADAD"}, {"offset": 0.05, "color": "#F5F2F2"}, {"offset": 0.075, "color": "#FFADAD"},
        {"offset": 0.1, "color": "#F5F2F2"}, {"offset": 0.125, "color": "#FFADAD"}, {"offset": 0.15, "color": "#F5F2F2"}, {"offset": 0.175, "color": "#FFADAD"},
        {"offset": 0.2, "color": "#F5F2F2"}, {"offset": 0.225, "color": "#FFADAD"}, {"offset": 0.25, "color": "#F5F2F2"}, {"offset": 0.275, "color": "#FFADAD"},
        {"offset": 0.3, "color": "#F5F2F2"}, {"offset": 0.325, "color": "#FFADAD"}, {"offset": 0.35, "color": "#F5F2F2"}, {"offset": 0.375, "color": "#FFADAD"},
        {"offset": 0.4, "color": "#F5F2F2"}, {"offset": 0.425, "color": "#FFADAD"}, {"offset": 0.45, "color": "#F5F2F2"}, {"offset": 0.475, "color": "#FFADAD"},
        {"offset": 0.5, "color": "#F5F2F2"}, {"offset": 0.525, "color": "#FFADAD"}, {"offset": 0.55, "color": "#F5F2F2"}, {"offset": 0.575, "color": "#FFADAD"},
        {"offset": 0.6, "color": "#F5F2F2"}, {"offset": 0.625, "color": "#FFADAD"}, {"offset": 0.65, "color": "#F5F2F2"}, {"offset": 0.675, "color": "#FFADAD"},
        {"offset": 0.7, "color": "#F5F2F2"}, {"offset": 0.725, "color": "#FFADAD"}, {"offset": 0.75, "color": "#F5F2F2"}, {"offset": 0.775, "color": "#FFADAD"},
        {"offset": 0.8, "color": "#F5F2F2"}, {"offset": 0.825, "color": "#FFADAD"}, {"offset": 0.85, "color": "#F5F2F2"}, {"offset": 0.875, "color": "#FFADAD"},
        {"offset": 0.9, "color": "#F5F2F2"}, {"offset": 0.925, "color": "#FFADAD"}, {"offset": 0.95, "color": "#F5F2F2"}, {"offset": 0.975, "color": "#FFADAD"},
        {"offset": 1, "color": "#F5F2F2"}]}},
      "encoding": {"x": {"datum": -0.0585, "type": "quantitative"}, "x2": {"datum": 0.4047}, "y": {"datum": -11.03, "type": "quantitative"}, "y2": {"datum": -15.06}}},
     {"data": {"name": "one"}, "mark": {"type": "text", "text": "Intrants D.A.", "font": "Lato", "fontWeight": "bold", "fontSize": 47, "fill": "#002060", "align": "center", "baseline": "middle"},
      "encoding": {"x": {"datum": 0.685, "type": "quantitative"}, "y": {"datum": 45.7, "type": "quantitative"}}},
     {"data": {"name": "one"}, "mark": {"type": "text", "text": "Principal intrant Digestion Anaérobie", "font": "Liberation Sans", "fontSize": 28.5, "fill": "#000000", "align": "center", "baseline": "middle"},
      "encoding": {"x": {"datum": 0.4742, "type": "quantitative"}, "y": {"datum": -9.26, "type": "quantitative"}}},
     {"data": {"name": "one"}, "mark": {"type": "rect", "fill": "#FFFFCC", "stroke": "#B5B03A", "strokeWidth": 1.5},
      "encoding": {"x": {"datum": 0.102, "type": "quantitative"}, "x2": {"datum": 0.2174}, "y": {"datum": -5.93, "type": "quantitative"}, "y2": {"datum": -10.04}}},
     {"data": {"name": "one"}, "mark": {"type": "text", "text": "D11", "font": "Liberation Sans", "fontSize": 35, "fill": "#000000", "align": "center", "baseline": "middle"},
      "encoding": {"x": {"datum": 0.1597, "type": "quantitative"}, "y": {"datum": -7.98, "type": "quantitative"}}}
    ]},
    {"layer": [
     {"data": {"name": "inR"}, "mark": {"type": "text", "font": "Liberation Sans", "fontSize": 18, "fill": "#1A1A1A", "baseline": "middle"},
      "encoding": {"x": {"field": "cat", "type": "nominal", "scale": {"type": "band", "domain": ["Faible", "Haute", "Inconsistante"], "paddingInner": 0.1, "paddingOuter": 0.14}, "axis": null},
                   "y": {"field": "n", "type": "quantitative", "stack": "zero", "bandPosition": 0.5},
                   "detail": {"field": "intr"}, "order": {"field": "k", "type": "quantitative"}, "text": {"field": "lab"}}}
    ]}
   ]
  }
 ],
 "config": {
  "view": {"stroke": null},
  "font": "Liberation Sans",
  "axis": {"labelFont": "Liberation Sans", "labelFontSize": 28, "labelColor": "#4D4D4D", "tickColor": "#333333", "tickWidth": 1.5, "tickSize": 6, "domain": false, "grid": false, "titleFont": "Liberation Sans", "titleFontSize": 28, "titleFontWeight": "normal", "titleColor": "#000000"},
  "legend": {"symbolType": "square", "symbolSize": 650, "labelFont": "Liberation Sans", "labelFontSize": 20.5, "labelColor": "#1A1A1A", "labelOffset": 5, "labelLimit": 400, "padding": 0}
 }
}
